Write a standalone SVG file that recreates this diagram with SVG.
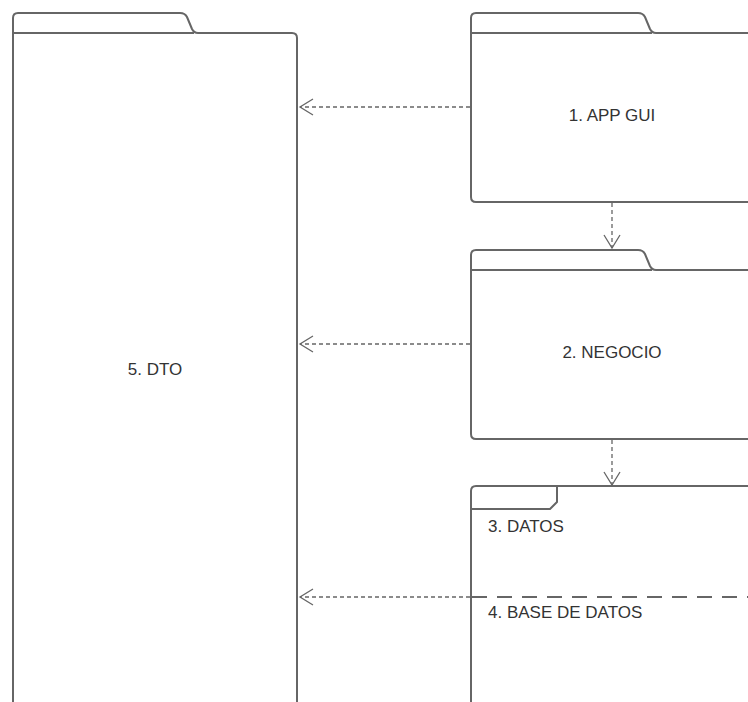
<svg xmlns="http://www.w3.org/2000/svg" width="748" height="702" viewBox="0 0 748 702">
<style>
.s{fill:none;stroke:#666;stroke-width:2;stroke-linejoin:round}
.t{font-family:"Liberation Sans",Arial,sans-serif;font-size:17px;fill:#333}
.d{fill:none;stroke:#666;stroke-width:1.3;stroke-dasharray:4 3}
.h{fill:none;stroke:#666;stroke-width:1.3}
</style>
<rect width="748" height="702" fill="#fff"/>
<g id="dto">
<path class="s" d="M13,710 V18 Q13,13 18,13 H180 Q185,13 187,17 L192,29 Q194,33 198,33 H292 Q297,33 297,38 V710"/>
<path class="s" d="M13,33 H194"/>
<text class="t" x="155" y="375" text-anchor="middle">5. DTO</text>
</g>
<g id="appgui">
<path class="s" d="M760,33 H656 Q652,33 650,29 L645,17 Q643,13 638,13 H476 Q471,13 471,18 V197 Q471,202 476,202 H760"/>
<path class="s" d="M471,33 H652"/>
<text class="t" x="612" y="121" text-anchor="middle">1. APP GUI</text>
</g>
<g id="negocio">
<path class="s" d="M760,270 H656 Q652,270 650,266 L645,254 Q643,250 638,250 H476 Q471,250 471,255 V434 Q471,439 476,439 H760"/>
<path class="s" d="M471,270 H652"/>
<text class="t" x="612" y="358" text-anchor="middle">2. NEGOCIO</text>
</g>
<g id="datos">
<path class="s" d="M471,710 V491 Q471,486 476,486 H760"/>
<path class="s" d="M557,486 V502 L550,509 H471"/>
<text class="t" x="488" y="532">3. DATOS</text>
</g>
<g id="basedatos">
<path fill="none" stroke="#666" stroke-width="2" stroke-dasharray="15 10" d="M472,597 H748"/>
<text class="t" x="488" y="618">4. BASE DE DATOS</text>
</g>
<g id="connectors">
<path class="d" d="M470,107 H300"/>
<path class="h" d="M313,99 L300,107 L313,115"/>
<path class="d" d="M470,344 H300"/>
<path class="h" d="M313,336 L300,344 L313,352"/>
<path class="d" d="M470,597 H300"/>
<path class="h" d="M313,589 L300,597 L313,605"/>
<path class="d" d="M612,203 V248"/>
<path class="h" d="M604,235 L612,248 L620,235"/>
<path class="d" d="M612,440 V485"/>
<path class="h" d="M604,472 L612,485 L620,472"/>
</g>
</svg>
